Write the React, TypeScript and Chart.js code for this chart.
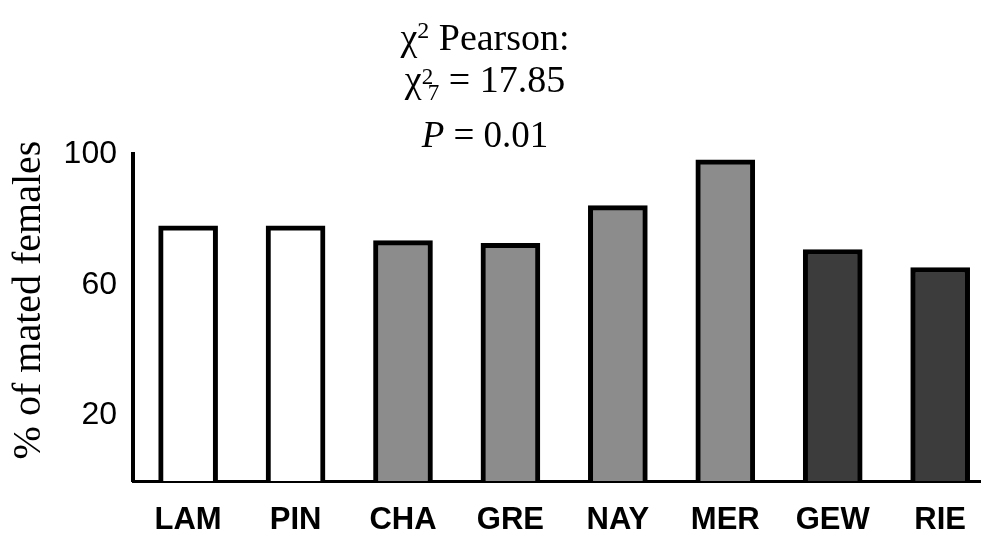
import React, { useEffect, useRef } from "react";
import { Chart, registerables } from "chart.js";

Chart.register(...registerables);

const categories = ["LAM", "PIN", "CHA", "GRE", "NAY", "MER", "GEW", "RIE"];
const matedPercent = [78, 78, 73.5, 72.7, 84.2, 98.2, 70.8, 65.3];
const barColors = ["#ffffff", "#ffffff", "#8c8c8c", "#8c8c8c", "#8c8c8c", "#8c8c8c", "#3c3c3c", "#3c3c3c"];
const yTickValues = [20, 60, 100];
const yTitle = "% of mated females";

const SERIF = "'Liberation Serif', 'Times New Roman', serif";
const SANS = "'Liberation Sans', Arial, sans-serif";

type Run = { t: string; size: number; dy?: number; italic?: boolean; adv?: number };
const titleLines: { baseline: number; runs: Run[] }[] = [
  {
    baseline: 50,
    runs: [
      { t: "\u03c7", size: 38 },
      { t: "2", size: 24, dy: -12 },
      { t: " Pearson:", size: 38 },
    ],
  },
  {
    baseline: 92,
    runs: [
      { t: "\u03c7", size: 38 },
      { t: "2", size: 23, dy: -8, adv: 6 },
      { t: "7", size: 23, dy: 8 },
      { t: " = 17.85", size: 38 },
    ],
  },
  {
    baseline: 147,
    runs: [
      { t: "P", size: 37, italic: true },
      { t: " = 0.01", size: 37 },
    ],
  },
];

const textPlugin = {
  id: "customTexts",
  afterDraw(chart: any) {
    const ctx: CanvasRenderingContext2D = chart.ctx;
    ctx.save();
    ctx.fillStyle = "#000";
    ctx.textBaseline = "alphabetic";
    ctx.textAlign = "left";
    const cx = 485;
    for (const line of titleLines) {
      let total = 0;
      const widths: number[] = [];
      for (const r of line.runs) {
        ctx.font = `${r.italic ? "italic " : ""}${r.size}px ${SERIF}`;
        const w = r.adv !== undefined ? r.adv : ctx.measureText(r.t).width;
        widths.push(w);
        total += w;
      }
      let x = cx - total / 2;
      line.runs.forEach((r, i) => {
        ctx.font = `${r.italic ? "italic " : ""}${r.size}px ${SERIF}`;
        ctx.fillText(r.t, x, line.baseline + (r.dy || 0));
        x += widths[i];
      });
    }
    // y-axis title
    ctx.save();
    ctx.translate(40, 300);
    ctx.rotate(-Math.PI / 2);
    ctx.textAlign = "center";
    ctx.font = `40px ${SERIF}`;
    ctx.fillText(yTitle, 0, 0);
    ctx.restore();
    ctx.restore();
  },
};

export default function App() {
  const ref = useRef<HTMLCanvasElement | null>(null);
  useEffect(() => {
    if (!ref.current) return;
    const chart = new Chart(ref.current, {
      type: "bar",
      data: {
        datasets: [
          {
            data: matedPercent.map((v, i) => ({ x: i, y: v })),
            backgroundColor: barColors,
            borderColor: "#000",
            borderWidth: 5,
            barThickness: 59,
          } as any,
        ],
      },
      plugins: [textPlugin],
      options: {
        animation: false,
        responsive: false,
        events: [],
        layout: { padding: { top: 154, left: 0, right: 0, bottom: 0 } },
        plugins: { legend: { display: false }, tooltip: { enabled: false }, title: { display: false } },
        scales: {
          x: {
            type: "linear",
            offset: false,
            min: -0.513,
            max: 7.38,
            grid: { display: false, drawTicks: false, offset: false },
            border: { display: true, color: "#000", width: 3 },
            afterBuildTicks: (scale: any) => {
              scale.ticks = categories.map((_, i) => ({ value: i }));
            },
            afterFit: (scale: any) => {
              scale.height = 56;
            },
            ticks: {
              autoSkip: false,
              maxRotation: 0,
              padding: 21,
              color: "#000",
              font: { family: SANS, size: 31, weight: "bold" },
              callback: (v: any) => categories[v as number] ?? "",
            },
          },
          y: {
            min: 0,
            max: 100,
            grid: { display: false, drawTicks: false },
            border: { display: true, color: "#000", width: 4 },
            afterBuildTicks: (scale: any) => {
              scale.ticks = yTickValues.map((v) => ({ value: v }));
            },
            afterFit: (scale: any) => {
              scale.width = 133;
            },
            ticks: {
              padding: 16,
              color: "#000",
              font: { family: SANS, size: 32 },
            },
          },
        },
      } as any,
    });
    return () => chart.destroy();
  }, []);
  return (
    <div style={{ position: "fixed", left: 0, top: 0, width: 987, height: 537, background: "#fff" }}>
      <canvas ref={ref} width={987} height={537} style={{ display: "block", width: 987, height: 537 }} />
    </div>
  );
}
